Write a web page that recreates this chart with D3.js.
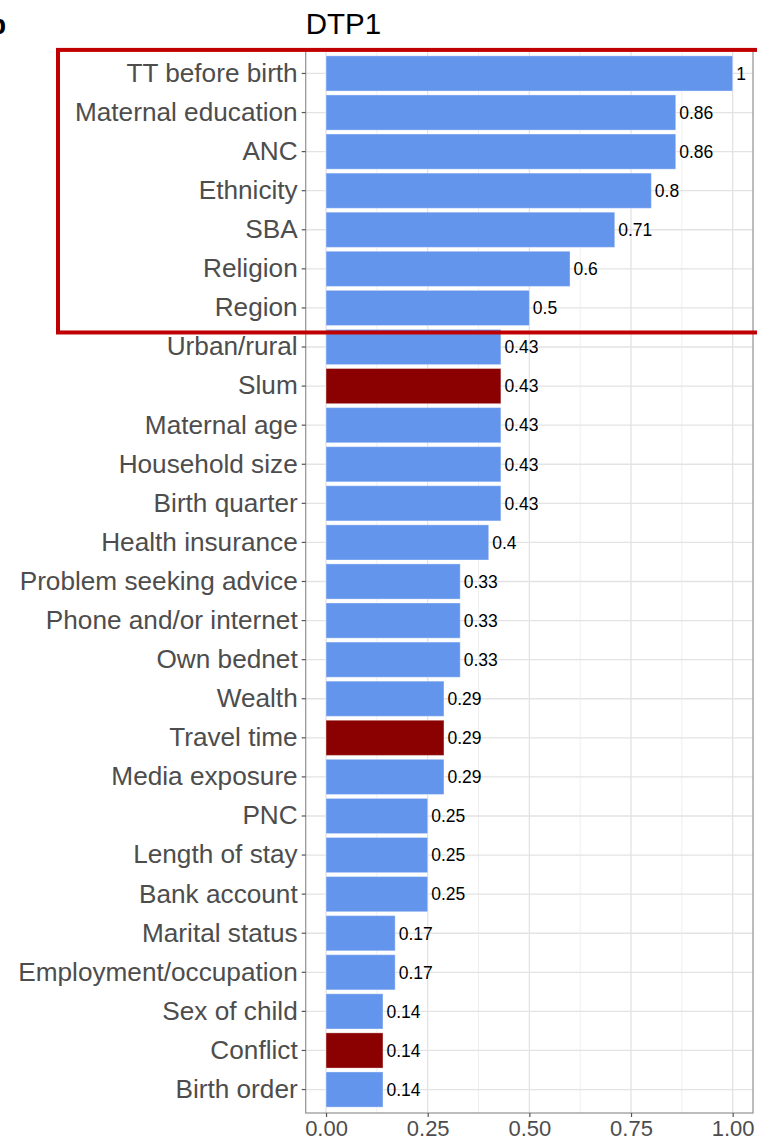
<!DOCTYPE html>
<html>
<head>
<meta charset="utf-8">
<script src="https://cdn.jsdelivr.net/npm/d3@7"></script>
<style>
  html, body { margin: 0; padding: 0; background: #fff; }
  svg { display: block; font-family: "Liberation Sans", Arial, sans-serif; }
</style>
</head>
<body>
<svg id="chart" width="757" height="1142"></svg>
<script>
// Determinants, ordered top to bottom
const categories = [
  "TT before birth", "Maternal education", "ANC", "Ethnicity", "SBA", "Religion",
  "Region", "Urban/rural", "Slum", "Maternal age", "Household size", "Birth quarter",
  "Health insurance", "Problem seeking advice", "Phone and/or internet", "Own bednet",
  "Wealth", "Travel time", "Media exposure", "PNC", "Length of stay", "Bank account",
  "Marital status", "Employment/occupation", "Sex of child", "Conflict", "Birth order"
];
const values = [
  1, 0.86, 0.86, 0.8, 0.71, 0.6,
  0.5, 0.43, 0.43, 0.43, 0.43, 0.43,
  0.4, 0.33, 0.33, 0.33,
  0.29, 0.29, 0.29, 0.25, 0.25, 0.25,
  0.17, 0.17, 0.14, 0.14, 0.14
];
// Determinants highlighted in dark red
const highlighted = ["Slum", "Travel time", "Conflict"];
// Determinants enclosed by the outline box
const boxed = ["TT before birth", "Region"];
const xTicks = [0, 0.25, 0.5, 0.75, 1];
const xMinor = [0.125, 0.375, 0.625, 0.875];
const title = "DTP1";
const panelTag = "b";

const data = categories.map((c, i) => ({ cat: c, val: values[i] }));

const svg = d3.select("#chart");
const panel = { left: 305.7, right: 753, top: 50, bottom: 1113 };

const x = d3.scaleLinear().domain([-0.05, 1.05]).range([panel.left, panel.right]);
const y = d3.scaleBand().domain(categories)
  .range([panel.top, panel.bottom])
  .paddingInner(0.1).paddingOuter(0.15);

// grid
const grid = svg.append("g");
grid.selectAll(".minor").data(xMinor).join("line")
  .attr("x1", d => x(d)).attr("x2", d => x(d))
  .attr("y1", panel.top).attr("y2", panel.bottom)
  .attr("stroke", "#efefef").attr("stroke-width", 1);
grid.selectAll(".major").data(xTicks).join("line")
  .attr("x1", d => x(d)).attr("x2", d => x(d))
  .attr("y1", panel.top).attr("y2", panel.bottom)
  .attr("stroke", "#e3e3e3").attr("stroke-width", 1.3);
grid.selectAll(".hgrid").data(categories).join("line")
  .attr("x1", panel.left).attr("x2", panel.right)
  .attr("y1", d => y(d) + y.bandwidth() / 2).attr("y2", d => y(d) + y.bandwidth() / 2)
  .attr("stroke", "#e3e3e3").attr("stroke-width", 1.3);

// bars
svg.append("g").selectAll("rect").data(data).join("rect")
  .attr("x", x(0))
  .attr("y", d => y(d.cat))
  .attr("width", d => x(d.val) - x(0))
  .attr("height", y.bandwidth())
  .attr("fill", d => highlighted.includes(d.cat) ? "#8B0000" : "#6495ED")
  .attr("stroke", "#ffffff").attr("stroke-opacity", 0.35).attr("stroke-width", 1);

// value labels
svg.append("g").selectAll("text").data(data).join("text")
  .attr("x", d => x(d.val) + 3.5)
  .attr("y", d => y(d.cat) + y.bandwidth() / 2)
  .attr("dy", "0.36em")
  .attr("font-size", 17.5)
  .attr("fill", "#000")
  .text(d => String(d.val));

// panel border
svg.append("rect")
  .attr("x", panel.left).attr("y", panel.top)
  .attr("width", panel.right - panel.left).attr("height", panel.bottom - panel.top)
  .attr("fill", "none").attr("stroke", "#9a9a9a").attr("stroke-width", 1.3);

// y axis
const yAxis = svg.append("g")
  .attr("transform", `translate(${panel.left},0)`)
  .call(d3.axisLeft(y).tickSize(4).tickPadding(4));
yAxis.select(".domain").remove();
yAxis.selectAll(".tick line").attr("stroke", "#555").attr("stroke-width", 1.2);
yAxis.selectAll(".tick text")
  .attr("font-size", 26.2).attr("fill", "#4d4d4d")
  .attr("font-family", "'Liberation Sans', Arial, sans-serif");

// x axis
const xAxis = svg.append("g")
  .attr("transform", `translate(0,${panel.bottom})`)
  .call(d3.axisBottom(x).tickValues(xTicks).tickFormat(d3.format(".2f")).tickSize(4).tickPadding(3));
xAxis.select(".domain").remove();
xAxis.selectAll(".tick line").attr("stroke", "#555").attr("stroke-width", 1.2);
xAxis.selectAll(".tick text")
  .attr("font-size", 22).attr("fill", "#4d4d4d")
  .attr("font-family", "'Liberation Sans', Arial, sans-serif");

// title
svg.append("text")
  .attr("x", panel.left).attr("y", 34)
  .attr("font-size", 29.5).attr("fill", "#000")
  .text(title);

// panel tag
svg.append("text")
  .attr("x", -11).attr("y", 34)
  .attr("font-size", 28).attr("font-weight", "bold").attr("fill", "#000")
  .text(panelTag);

// outline box around the top group
const boxTop = y(boxed[0]) - y.step() * y.paddingInner() / 2 - 4;
const boxBottom = y(boxed[1]) + y.bandwidth() + y.step() * y.paddingInner() / 2 + 5;
svg.append("rect")
  .attr("x", 58).attr("y", boxTop)
  .attr("width", 757 - 58 + 20).attr("height", boxBottom - boxTop)
  .attr("fill", "none").attr("stroke", "#C00000").attr("stroke-width", 4);
</script>
</body>
</html>
